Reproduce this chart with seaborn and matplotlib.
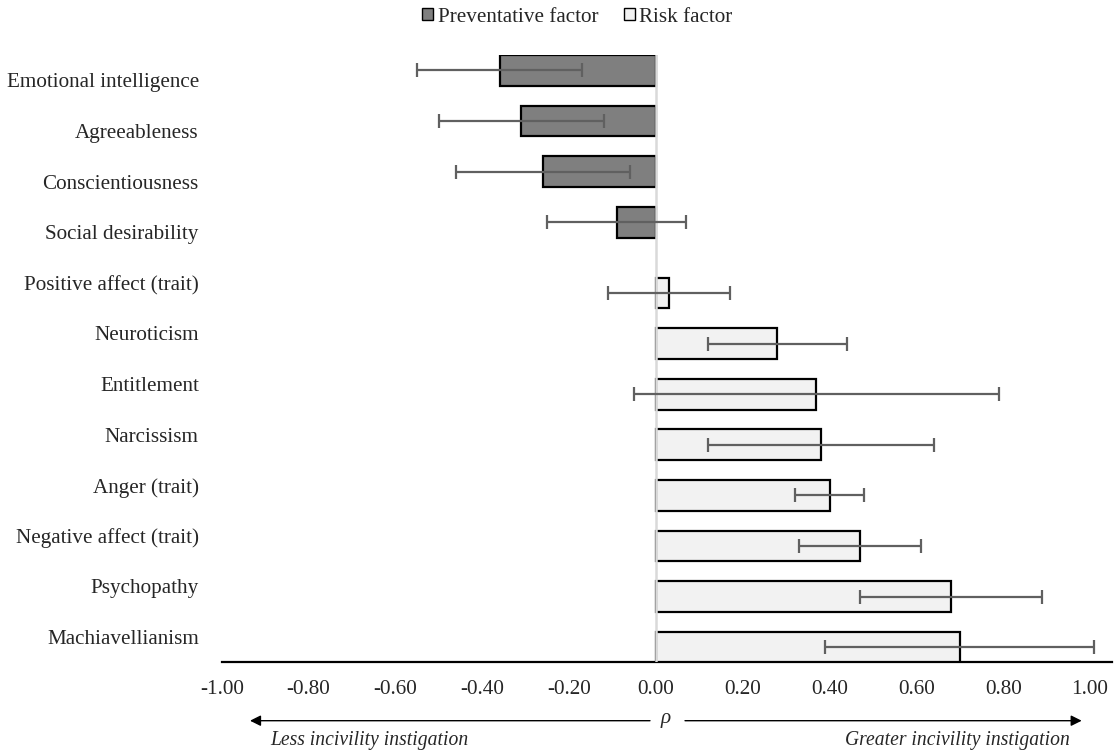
import numpy as np
import pandas as pd
import matplotlib
matplotlib.use("Agg")
import matplotlib.pyplot as plt
from matplotlib.patches import Patch
import seaborn as sns

traits = ["Emotional intelligence", "Agreeableness", "Conscientiousness",
          "Social desirability", "Positive affect (trait)", "Neuroticism",
          "Entitlement", "Narcissism", "Anger (trait)", "Negative affect (trait)",
          "Psychopathy", "Machiavellianism"]
rho = [-0.36, -0.31, -0.26, -0.09, 0.03, 0.28, 0.37, 0.38, 0.40, 0.47, 0.68, 0.70]
ci_low = [-0.55, -0.50, -0.46, -0.25, -0.11, 0.12, -0.05, 0.12, 0.32, 0.33, 0.47, 0.39]
ci_high = [-0.17, -0.12, -0.06, 0.07, 0.17, 0.44, 0.79, 0.64, 0.48, 0.61, 0.89, 1.01]
factor = ["Preventative factor"] * 4 + ["Risk factor"] * 8
factor_levels = ["Preventative factor", "Risk factor"]
x_ticks = [-1.0, -0.8, -0.6, -0.4, -0.2, 0.0, 0.2, 0.4, 0.6, 0.8, 1.0]

df = pd.DataFrame({"trait": traits, "rho": rho, "lo": ci_low, "hi": ci_high,
                   "factor": factor})

sns.set_style("white")
plt.rcParams["font.family"] = ["Liberation Serif", "DejaVu Serif"]
FS = 15.2
FS_IT = 14.1

W, H = 1115, 755
fig = plt.figure(figsize=(W / 100, H / 100), dpi=100)
ax_l, ax_r, ax_t, ax_b = 221.7, 1111.7, 55.2, 662.3
ax = fig.add_axes([ax_l / W, 1 - ax_b / H, (ax_r - ax_l) / W, (ax_b - ax_t) / H])

colors = {"Preventative factor": "#7f7f7f", "Risk factor": "#f2f2f2"}
sns.barplot(data=df, x="rho", y="trait", hue="factor", order=traits,
            hue_order=factor_levels, palette=colors, dodge=True, width=0.8,
            errorbar=None, edgecolor="black", linewidth=1.6, legend=False,
            orient="h", ax=ax, zorder=2)

# widen bars (Excel-style overlap) about their centers
bar_h = 0.61
ypos = {}
for p in ax.patches:
    c = p.get_y() + p.get_height() / 2
    p.set_height(bar_h)
    p.set_y(c - bar_h / 2)
    ypos[int(round(c))] = c

ys = [ypos[i] for i in range(len(traits))]
r = np.array(rho)
ax.errorbar(r, ys, xerr=[r - np.array(ci_low), np.array(ci_high) - r],
            fmt="none", ecolor="#606060", elinewidth=1.6, capsize=5,
            capthick=1.6, zorder=4)

ax.axvline(0, color="#d9d9d9", lw=1.8, zorder=3)

ax.set_xlim(-1.0, 1.05)
ax.set_ylim(11.5, -0.5)
ax.set_xticks(x_ticks)
ax.set_xticklabels([f"{t:.2f}" for t in x_ticks], fontsize=FS)
ax.set_yticks(range(len(traits)))
ax.set_yticklabels(traits, fontsize=FS)
ax.tick_params(axis="x", length=0, pad=12.5)
ax.tick_params(axis="y", length=0, pad=16.5)
ax.set_xlabel("")
ax.set_ylabel("")
for s in ["left", "top", "right"]:
    ax.spines[s].set_visible(False)
ax.spines["bottom"].set_color("black")
ax.spines["bottom"].set_linewidth(1.6)
ax.grid(False)

# legend
handles = [Patch(facecolor=colors[k], edgecolor="black", linewidth=1.0, label=k)
           for k in factor_levels]
fig.legend(handles=handles, loc="center", bbox_to_anchor=(577.5 / W, 1 - 17 / H),
           ncol=2, frameon=False, fontsize=FS, handlelength=0.52,
           handleheight=0.52, handletextpad=0.22, columnspacing=1.2,
           borderpad=0, borderaxespad=0)

# bottom annotations
ya = 1 - 720.7 / H
ax.annotate("", xy=(250 / W, ya), xytext=(650 / W, ya),
            xycoords="figure fraction", textcoords="figure fraction",
            arrowprops=dict(arrowstyle="-|>", color="black", lw=1.0,
                            mutation_scale=16, shrinkA=0, shrinkB=0))
ax.annotate("", xy=(1081.7 / W, ya), xytext=(685 / W, ya),
            xycoords="figure fraction", textcoords="figure fraction",
            arrowprops=dict(arrowstyle="-|>", color="black", lw=1.0,
                            mutation_scale=16, shrinkA=0, shrinkB=0))
fig.text(666 / W, 1 - 719 / H, "ρ", ha="center", va="center", fontsize=FS,
         fontstyle="italic")
fig.text(270 / W, 1 - 741 / H, "Less incivility instigation", ha="left",
         va="center", fontsize=FS_IT, fontstyle="italic")
fig.text(1070 / W, 1 - 741 / H, "Greater incivility instigation", ha="right",
         va="center", fontsize=FS_IT, fontstyle="italic")

fig.savefig("out.png", dpi=100)
